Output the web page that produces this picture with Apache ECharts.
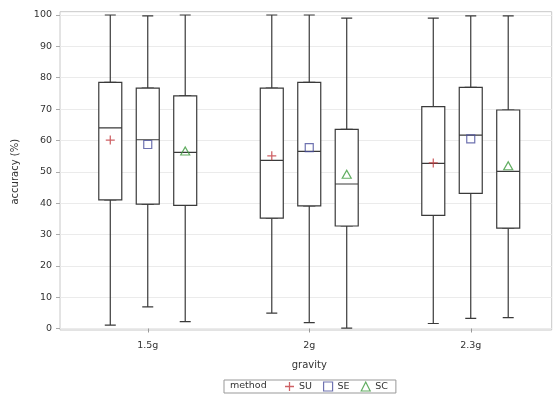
<!DOCTYPE html>
<html>
<head>
<meta charset="utf-8">
<script src="https://cdn.jsdelivr.net/npm/echarts@6/dist/echarts.min.js"></script>
<style>
  html, body { margin: 0; padding: 0; background: #fff; }
  #chart { width: 555px; height: 394px; }
</style>
</head>
<body>
<div id="chart"></div>
<script>
// data: [min, Q1, median, Q3, max] per gravity level
const categories = ['1.5g', '2g', '2.3g']
const methods = ['SU', 'SE', 'SC']
const suBox = [[1.1, 41, 64, 78.5, 100], [4.9, 35.2, 53.6, 76.7, 100], [1.6, 36.1, 52.7, 70.8, 99]]
const seBox = [[6.9, 39.7, 60.2, 76.7, 99.7], [1.9, 39.1, 56.5, 78.5, 100], [3.2, 43.1, 61.7, 76.9, 99.7]]
const scBox = [[2.2, 39.3, 56.2, 74.2, 100], [0.1, 32.7, 46.1, 63.5, 99], [3.5, 32, 50.1, 69.7, 99.7]]
const suMean = [60.1, 55.1, 52.8]
const seMean = [58.7, 57.7, 60.5]
const scMean = [56.6, 49.2, 51.9]

const boxes = [suBox, seBox, scBox]
const means = [suMean, seMean, scMean]

const font = 'DejaVu Sans'
const textColor = '#333'
const lineColor = '#3a3a3a'
const colors = ['#c23a3e', '#4a4f9c', '#3c9a3c']
const symbols = [
    'path://M4.3,0h1.4v4.3h4.3v1.4h-4.3v4.3h-1.4v-4.3h-4.3v-1.4h4.3z',
    'rect',
    'triangle'
]
const symbolSizes = [9, 8, [9, 8]]

// methods are placed side by side inside each gravity band:
// every method gets its own x axis whose range is shifted by a fraction of a band
const bandShift = 0.232
const dataGrid = {left: 67, width: 484.5, top: 15, bottom: 65.5}

const grids = [
    {left: 60, right: 3.3, top: 11.7, bottom: 64, show: true, borderColor: '#c8c8c8', borderWidth: 1, backgroundColor: 'transparent'},
    {left: 60, right: 3.3, top: dataGrid.top, bottom: dataGrid.bottom},
    dataGrid
]
const xAxes = [
    {gridIndex: 0, type: 'category', data: categories, show: false},
    {gridIndex: 1, type: 'category', data: categories, show: false},
    {
        gridIndex: 2, type: 'category', data: categories,
        offset: 1.5,
        name: 'gravity', nameLocation: 'middle', nameGap: 30,
        nameTextStyle: {fontFamily: font, fontSize: 10, color: textColor},
        axisLine: {show: false},
        axisTick: {show: true, alignWithLabel: true, length: 4, lineStyle: {color: '#999'}},
        axisLabel: {fontFamily: font, fontSize: 9.5, color: textColor, margin: 11},
        splitLine: {show: false}
    }
]
const yAxes = [
    {gridIndex: 0, type: 'value', min: 0, max: 1, show: false},
    {
        gridIndex: 1, type: 'value', min: 0, max: 100, interval: 10,
        name: 'accuracy (%)', nameLocation: 'middle', nameGap: 40,
        nameTextStyle: {fontFamily: font, fontSize: 10, color: textColor},
        axisLine: {show: false},
        axisTick: {show: true, length: 4, lineStyle: {color: '#aaa'}},
        axisLabel: {fontFamily: font, fontSize: 9.5, color: textColor, margin: 8},
        splitLine: {show: true, lineStyle: {color: '#ebebeb', width: 1}}
    },
    {gridIndex: 2, type: 'value', min: 0, max: 100, show: false}
]
const series = []

function methodAxis(i) {
    const d = (1 - i) * bandShift
    xAxes.push({gridIndex: 2, type: 'value', min: -0.5 + d, max: categories.length - 0.5 + d, show: false})
    return xAxes.length - 1
}

methods.forEach(function (m, i) {
    const whiskerAxis = methodAxis(i)
    const boxAxis = methodAxis(i)
    const style = {color: '#fff', borderColor: lineColor, borderWidth: 1.2}
    // narrow layer: whiskers and caps
    series.push({
        name: m + ' whisker', type: 'boxplot',
        xAxisIndex: whiskerAxis, yAxisIndex: 2,
        boxWidth: [11, 11], itemStyle: style, z: 2, silent: true,
        data: boxes[i].map(function (b, k) { return [k].concat(b) })
    })
    // wide layer: box from Q1 to Q3 with median
    series.push({
        name: m + ' box', type: 'boxplot',
        xAxisIndex: boxAxis, yAxisIndex: 2,
        boxWidth: [23, 23], itemStyle: style, z: 3, silent: true,
        data: boxes[i].map(function (b, k) { return [k, b[1], b[1], b[2], b[3], b[3]] })
    })
    // mean marker
    series.push({
        name: m, type: 'scatter',
        xAxisIndex: boxAxis, yAxisIndex: 2,
        symbol: symbols[i], symbolSize: symbolSizes[i], symbolKeepAspect: true,
        itemStyle: i === 0
            ? {color: colors[i]}
            : {color: 'rgba(0,0,0,0)', borderColor: colors[i], borderWidth: 1.2},
        z: 5, silent: true,
        data: means[i].map(function (v, k) { return [k, v] })
    })
})

const chart = echarts.init(document.getElementById('chart'))
chart.setOption({
    animation: false,
    backgroundColor: '#fff',
    textStyle: {fontFamily: font},
    title: {
        text: 'method', left: 230, top: 381, padding: 0,
        textStyle: {fontFamily: font, fontSize: 9.5, fontWeight: 'normal', color: textColor}
    },
    legend: {
        left: 224, top: 380,
        padding: [1, 8, 1, 61],
        borderColor: '#999', borderWidth: 1,
        itemWidth: 9, itemHeight: 9, itemGap: 11,
        textStyle: {fontFamily: font, fontSize: 9.5, color: textColor, lineHeight: 11},
        data: methods.map(function (m, i) {
            return {
                name: m,
                icon: symbols[i],
                itemStyle: i === 0
                    ? {color: colors[i], borderWidth: 0}
                    : {color: 'rgba(0,0,0,0)', borderColor: colors[i], borderWidth: 1.2}
            }
        })
    },
    grid: grids,
    xAxis: xAxes,
    yAxis: yAxes,
    series: series
})
</script>
</body>
</html>
